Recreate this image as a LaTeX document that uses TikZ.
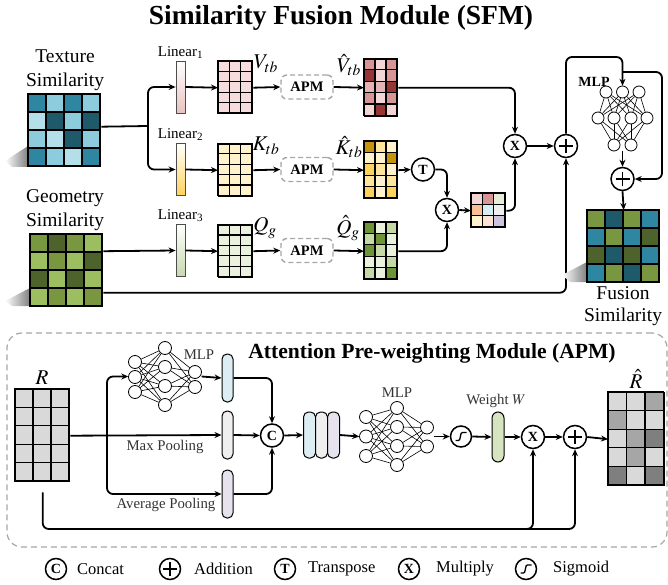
\documentclass[tikz,border=0pt]{standalone}
\usepackage{mathptmx}
\usepackage{fontspec}
\setmainfont{Liberation Serif}
\usetikzlibrary{arrows.meta, positioning}

\definecolor{tealdark}{HTML}{1F5A6B}
\definecolor{tealmid}{HTML}{2E86A0}
\definecolor{teallight}{HTML}{8DCCDC}
\definecolor{tealpale}{HTML}{B4DEE8}
\definecolor{olivedark}{HTML}{4E632B}
\definecolor{olivemid}{HTML}{799640}
\definecolor{olivelight}{HTML}{9CBE60}
\definecolor{pinkpale}{HTML}{F6DCDC}
\definecolor{pinklight}{HTML}{F2D6D6}
\definecolor{pinksoft}{HTML}{E4B3B3}
\definecolor{pinkmid}{HTML}{D99595}
\definecolor{pinkdark}{HTML}{983535}
\definecolor{goldpale}{HTML}{FFF2CC}
\definecolor{goldlight}{HTML}{FFE49C}
\definecolor{goldmid}{HTML}{FCD25F}
\definecolor{golddark}{HTML}{C5940C}
\definecolor{greenpale}{HTML}{EAF1DF}
\definecolor{greenmid}{HTML}{C5D9A6}
\definecolor{greendark}{HTML}{6E9438}
\definecolor{greylight}{HTML}{D9D9D9}
\definecolor{greymid}{HTML}{A6A6A6}
\definecolor{greydark}{HTML}{7F7F7F}
\definecolor{linpink}{HTML}{EAC2C2}
\definecolor{lingold}{HTML}{FFD35A}
\definecolor{lingreen}{HTML}{C6D9AE}
\definecolor{barblue}{HTML}{DCEEF4}
\definecolor{bargrey}{HTML}{EFEFEF}
\definecolor{barlilac}{HTML}{E6E3EF}
\definecolor{wgreen}{HTML}{D7E4C0}
\definecolor{dashgrey}{HTML}{A6A6A6}
\definecolor{peach}{HTML}{F8BF94}
\definecolor{iceblue}{HTML}{D6EDF3}
\definecolor{blush}{HTML}{FCE2D2}
\definecolor{lavender}{HTML}{CBC3E0}
\definecolor{mint}{HTML}{E6EEDA}

% cell matrix: name, x, y (top left), cols, rows, cell w, cell h, colours row by row
\newcommand{\cellgrid}[8]{%
  \foreach \gc [count=\gi from 0] in {#8} {%
    \pgfmathsetmacro{\gx}{#2+mod(\gi,#4)*#6}%
    \pgfmathsetmacro{\gy}{#3+floor(\gi/#4)*#7}%
    \filldraw[fill=\gc, draw=black, line width=1.2] (\gx,\gy) rectangle ++(#6,#7);
  }%
  \node[gridframe, minimum width=#4*#6, minimum height=#5*#7] (#1) at (#2,#3) {};%
}

\begin{document}
\begin{tikzpicture}[x=1pt, y=-1pt,
    gridframe/.style={draw=black, line width=1.4, inner sep=0pt, anchor=north west},
    linbar/.style={draw=black!70, line width=0.8, minimum width=9pt, minimum height=52pt,
                   inner sep=0pt, top color=white},
    apmbox/.style={draw=dashgrey, dash pattern=on 5pt off 3pt, line width=1.4,
                   rounded corners=6pt, minimum width=52pt, minimum height=24pt,
                   inner sep=0pt, font=\fontsize{14.5}{16}\selectfont\bfseries},
    opnode/.style={circle, draw=black, line width=1.5, fill=white, minimum size=23pt,
                   inner sep=0pt, font=\fontsize{14}{14}\selectfont\bfseries},
    plusop/.style={opnode, path picture={\draw[line width=1.2,
                   shift={(path picture bounding box.center)}] (-7,0) -- (7,0) (0,-7) -- (0,7);}},
    sigop/.style={opnode, path picture={\draw[line width=1.3, rounded corners=1pt,
                   shift={(path picture bounding box.center)}] (-5.5,4) -- (-1.5,4) -- (0.3,-4) -- (5.5,-4);}},
    neuron/.style={circle, draw=black, line width=0.8, fill=white, minimum size=12pt, inner sep=0pt},
    synapse/.style={line width=0.6},
    mlpbox/.style={inner sep=0pt},
    capsule/.style={draw=black, line width=1, rounded corners=5pt, minimum width=11pt,
                    minimum height=48pt, inner sep=0pt},
    conn/.style={-{Stealth[length=7pt, width=6pt]}, line width=1.8, rounded corners=6pt},
    wire/.style={line width=1.8, rounded corners=6pt},
    titlelbl/.style={font=\fontsize{27.5}{30}\selectfont\bfseries},
    simlbl/.style={font=\fontsize{19.5}{24}\selectfont, align=center},
    linlbl/.style={font=\fontsize{15}{17}\selectfont, inner sep=1pt},
    varlbl/.style={font=\fontsize{21}{24}\selectfont, inner sep=0pt},
    smalllbl/.style={font=\fontsize{14.8}{16}\selectfont, text=black!80},
    legtxt/.style={font=\fontsize{16.5}{18}\selectfont, anchor=west, inner sep=0pt},
]
\useasboundingbox (0,0) rectangle (668,585);

% --- Title ---
\node[titlelbl] (title) at (341,18) {Similarity Fusion Module (SFM)};

% --- Input similarities ---
\node[simlbl] (texlbl) at (65,70) {Texture\\Similarity};
\shade[left color=white, right color=black!50] (5,161) -- (28,146) -- (28,167) -- (12,167) -- cycle;
\cellgrid{tex}{28}{94}{4}{4}{18}{18}{tealmid,teallight,tealmid,teallight,
  tealpale,tealdark,teallight,tealdark, teallight,tealpale,tealdark,teallight,
  tealmid,teallight,tealpale,tealmid}

\node[simlbl] (geolbl) at (65,210) {Geometry\\Similarity};
\shade[left color=white, right color=black!50] (5,301) -- (30,288) -- (30,306) -- (12,306) -- cycle;
\cellgrid{geo}{30}{234}{4}{4}{18}{18}{olivemid,olivedark,olivemid,olivelight,
  olivelight,olivemid,olivelight,olivedark, olivedark,olivelight,olivedark,olivelight,
  olivelight,olivemid,olivelight,olivemid}

% --- Linear projections ---
\node[linbar, bottom color=linpink] (lin1) at (180.5,87) {};
\node[linbar, bottom color=lingold] (lin2) at (180.5,169.5) {};
\node[linbar, bottom color=lingreen] (lin3) at (180.5,250.5) {};
\node[linlbl, above=1pt of lin1] (lin1lbl) {Linear\textsubscript{1}};
\node[linlbl, above=1pt of lin2] (lin2lbl) {Linear\textsubscript{2}};
\node[linlbl, above=1pt of lin3] (lin3lbl) {Linear\textsubscript{3}};

\coordinate (split) at (148,126);
\draw[wire] ([yshift=4pt]tex.east) -- (split);
\draw[conn] (split) |- (lin1.west);
\draw[conn] (split) |- (lin2.west);
\draw[conn] ([yshift=19.5pt]geo.east) -- (lin3.west);

% --- V, K, Q ---
\cellgrid{vmat}{218}{61}{3}{5}{11.3}{10.4}{pinkpale,pinkpale,pinkpale,pinkpale,pinkpale,
  pinkpale,pinkpale,pinkpale,pinkpale,pinkpale,pinkpale,pinkpale,pinkpale,pinkpale,pinkpale}
\cellgrid{kmat}{218}{143.5}{3}{5}{11.3}{10.4}{goldpale,goldpale,goldpale,goldpale,goldpale,
  goldpale,goldpale,goldpale,goldpale,goldpale,goldpale,goldpale,goldpale,goldpale,goldpale}
\cellgrid{qmat}{218}{224.5}{3}{5}{11.3}{10.4}{greenpale,greenpale,greenpale,greenpale,greenpale,
  greenpale,greenpale,greenpale,greenpale,greenpale,greenpale,greenpale,greenpale,greenpale,greenpale}
\draw[conn] (lin1.east) -- (vmat.west);
\draw[conn] (lin2.east) -- (kmat.west);
\draw[conn] (lin3.east) -- (qmat.west);

\node[varlbl] (vlbl) at (266,64) {$V_{tb}$};
\node[varlbl] (klbl) at (266,146) {$K_{tb}$};
\node[varlbl] (qlbl) at (265,228) {$Q_{g}$};

% --- APM blocks ---
\node[apmbox] (apm1) at (307,87) {APM};
\node[apmbox] (apm2) at (307,169.5) {APM};
\node[apmbox] (apm3) at (307,250.5) {APM};
\draw[conn] (vmat.east) -- (apm1.west);
\draw[conn] (kmat.east) -- (apm2.west);
\draw[conn] (qmat.east) -- (apm3.west);

\cellgrid{vhat}{364}{58.5}{3}{5}{11}{11.4}{pinkmid,pinklight,pinkmid, pinkdark,pinklight,pinkmid,
  pinksoft,pinksoft,pinkdark, pinkmid,pinklight,pinkmid, pinklight,pinkdark,pinklight}
\cellgrid{khat}{364}{141}{3}{5}{11}{11.4}{golddark,goldlight,goldpale, goldpale,goldpale,golddark,
  goldmid,goldlight,goldpale, goldlight,goldpale,goldlight, goldmid,goldpale,goldmid}
\cellgrid{qhat}{364}{222}{3}{5}{11}{11.4}{greendark,greenpale,greenmid, greenmid,greendark,greenpale,
  greendark,greenmid,greenpale, greenpale,greenpale,greenmid, greenmid,greenpale,greendark}
\draw[conn] (apm1.east) -- (vhat.west);
\draw[conn] (apm2.east) -- (khat.west);
\draw[conn] (apm3.east) -- (qhat.west);

\node[varlbl] (vhlbl) at (349,65) {$\hat{V}_{tb}$};
\node[varlbl] (khlbl) at (349,147) {$\hat{K}_{tb}$};
\node[varlbl] (qhlbl) at (348,228) {$\hat{Q}_{g}$};

% --- Attention product ---
\node[opnode] (tnode) at (423,169.5) {T};
\node[opnode] (mul2) at (447,210) {X};
\node[opnode] (mul1) at (515,146) {X};
\node[plusop] (add1) at (566,146) {};
\cellgrid{prod}{471}{193}{3}{3}{11.3}{11.3}{pinklight,pinkmid,mint, peach,iceblue,bargrey,
  goldpale,blush,lavender}

\draw[conn] (khat.east) -- (tnode.west);
\draw[conn] (tnode.east) -| (mul2.north);
\draw[conn] (qhat.east) -| (mul2.south);
\draw[conn] (mul2.east) -- (prod.west);
\draw[conn] (prod.east) -| (mul1.south);
\draw[conn] (vhat.east) -| (mul1.north);
\draw[conn] (mul1.east) -- (add1.west);
\draw[conn] ([yshift=-22pt]geo.east) -| (add1.south);

% --- Output MLP ---
\foreach \x [count=\i] in {606,622.5,639} \node[neuron] (ta\i) at (\x,92) {};
\foreach \x [count=\i] in {598,614,631,647} \node[neuron] (tb\i) at (\x,118) {};
\foreach \x [count=\i] in {614,631} \node[neuron] (tc\i) at (\x,145) {};
\foreach \i in {1,2,3} \foreach \j in {1,2,3,4} \draw[synapse] (ta\i) -- (tb\j);
\foreach \i in {1,2,3,4} \foreach \j in {1,2} \draw[synapse] (tb\i) -- (tc\j);
\node[mlpbox, minimum width=62pt, minimum height=65pt] (mlpR) at (622.5,118.5) {};
\node[font=\fontsize{14}{16}\selectfont\bfseries, inner sep=0pt] (mlpRlbl) at (594,82) {MLP};

\node[plusop] (add2) at (622.5,179) {};
\coordinate (loopc) at (594,57);
\coordinate (skipa) at (622.5,72);
\coordinate (skipb) at (662,72);
\draw[conn] (add1.north) |- (loopc) -| (mlpR.north);
\draw[conn] (skipa) -- (skipb) |- (add2.east);
\draw[conn] (mlpR.south) -- (add2.north);

\shade[left color=white, right color=black!50] (562,275) -- (587,262) -- (587,282) -- (570,282) -- cycle;
\cellgrid{fus}{587}{210}{4}{4}{18}{18}{olivemid,tealdark,olivemid,tealmid,
  tealmid,olivemid,tealmid,olivedark, olivedark,tealdark,olivedark,tealmid,
  tealmid,olivemid,tealdark,olivemid}
\draw[conn] (add2.south) -- (fus.north);
\node[simlbl, font=\fontsize{19.5}{22}\selectfont] (fuslbl) at (623,306) {Fusion\\Similarity};

% --- Attention Pre-weighting Module ---
\node[draw=dashgrey, dash pattern=on 6pt off 4pt, line width=1.2, rounded corners=15pt,
      minimum width=660pt, minimum height=214pt] (apmfr) at (337,440) {};
\node[font=\fontsize{21.6}{24}\selectfont\bfseries] (apmtitle) at (432,353)
  {Attention Pre-weighting Module (APM)};

\node[varlbl] (rlbl) at (42,378) {$R$};
\cellgrid{rmat}{15}{389}{3}{5}{18}{18.4}{greylight,greylight,greylight,greylight,greylight,
  greylight,greylight,greylight,greylight,greylight,greylight,greylight,greylight,greylight,greylight}

% branch MLP
\foreach \y [count=\i] in {362,377,392} \node[neuron, minimum size=13pt] (la\i) at (135,\y) {};
\foreach \y [count=\i] in {348,367,386,405} \node[neuron, minimum size=13pt] (lb\i) at (165,\y) {};
\foreach \y [count=\i] in {372,387} \node[neuron, minimum size=13pt] (lc\i) at (195,\y) {};
\foreach \i in {1,2,3} \foreach \j in {1,2,3,4} \draw[synapse] (la\i) -- (lb\j);
\foreach \i in {1,2,3,4} \foreach \j in {1,2} \draw[synapse] (lb\i) -- (lc\j);
\node[mlpbox, minimum width=73pt, minimum height=70pt] (mlpL) at (165,376.5) {};
\node[smalllbl] (mlpLlbl) at (199,355) {MLP};

\node[capsule, fill=barblue] (bar1) at (227.5,378) {};
\node[capsule, fill=bargrey] (bar2) at (227.5,435) {};
\node[capsule, fill=barlilac] (bar3) at (227.5,494) {};
\node[smalllbl] (maxlbl) at (165,447) {Max Pooling};
\node[smalllbl] (avglbl) at (166,505) {Average Pooling};

\coordinate (rsplit) at (107,435);
\draw[conn] (rmat.east) -- (bar2.west);
\draw[conn] (rsplit) |- (mlpL.west);
\draw[conn] (rsplit) |- (bar3.west);
\draw[conn] (mlpL.east) -- (bar1.west);

\node[opnode] (cat) at (272,435.5) {C};
\draw[conn] (bar1.east) -| (cat.north);
\draw[conn] (bar2.east) -- (cat.west);
\draw[conn] (bar3.east) -| (cat.south);

\node[capsule, fill=barblue, minimum width=12pt, minimum height=46pt] (cap1) at (309.5,435) {};
\node[capsule, fill=bargrey, minimum width=12pt, minimum height=46pt] (cap2) at (321.5,435) {};
\node[capsule, fill=barlilac, minimum width=12pt, minimum height=46pt] (cap3) at (333.5,435) {};
\draw[conn] (cat.east) -- (cap1.west);

% weight MLP
\foreach \y [count=\i] in {417,436.5,456} \node[neuron, minimum size=13pt] (ma\i) at (366,\y) {};
\foreach \y [count=\i] in {408,427,446,465} \node[neuron, minimum size=13pt] (mb\i) at (397,\y) {};
\foreach \y [count=\i] in {427.5,446.5} \node[neuron, minimum size=13pt] (mc\i) at (427,\y) {};
\foreach \i in {1,2,3} \foreach \j in {1,2,3,4} \draw[synapse] (ma\i) -- (mb\j);
\foreach \i in {1,2,3,4} \foreach \j in {1,2} \draw[synapse] (mb\i) -- (mc\j);
\node[mlpbox, minimum width=74pt, minimum height=70pt] (mlpB) at (396.5,436.5) {};
\node[smalllbl] (mlpBlbl) at (397,393) {MLP};
\draw[conn] (cap3.east) -- (mlpB.west);

\node[sigop, minimum size=21pt] (sig) at (461,436.5) {};
\node[capsule, fill=wgreen, minimum width=12pt, minimum height=50pt, rounded corners=6pt] (wbar) at (498,437) {};
\node[smalllbl] (wlbl) at (496,401) {Weight $W$};
\node[opnode] (mulb) at (533,437) {X};
\node[plusop] (addb) at (575,437) {};
\cellgrid{rhat}{608}{392}{3}{5}{18.5}{18.6}{greylight,greylight,greymid, greymid,greylight,greylight,
  greylight,greymid,greydark, greylight,greymid,greylight, greydark,greylight,greydark}
\node[varlbl] (rhlbl) at (636,379) {$\hat{R}$};

\draw[conn] (mlpB.east) -- (sig.west);
\draw[conn] (sig.east) -- (wbar.west);
\draw[conn] (wbar.east) -- (mulb.west);
\draw[conn] (mulb.east) -- (addb.west);
\draw[conn] (addb.east) -- (rhat.west);

\coordinate (resid) at (300,529);
\draw[conn] ([yshift=-10pt]rmat.south) |- (resid) -| (addb.south);
\draw[conn] (resid) -| (mulb.south);

% --- Legend ---
\node[opnode, minimum size=21pt] (lgcat) at (56,569) {C};
\node[legtxt] (lgcattxt) at (77,569) {Concat};
\node[plusop, minimum size=21pt] (lgadd) at (170,569) {};
\node[legtxt] (lgaddtxt) at (194,569) {Addition};
\node[opnode, minimum size=21pt] (lgtr) at (285,569) {T};
\node[legtxt] (lgtrtxt) at (308,569) {Transpose};
\node[opnode, minimum size=21pt] (lgmul) at (409,569) {X};
\node[legtxt] (lgmultxt) at (436,569) {Multiply};
\node[sigop, minimum size=21pt] (lgsig) at (526,569) {};
\node[legtxt] (lgsigtxt) at (553,569) {Sigmoid};

\end{tikzpicture}
\end{document}
